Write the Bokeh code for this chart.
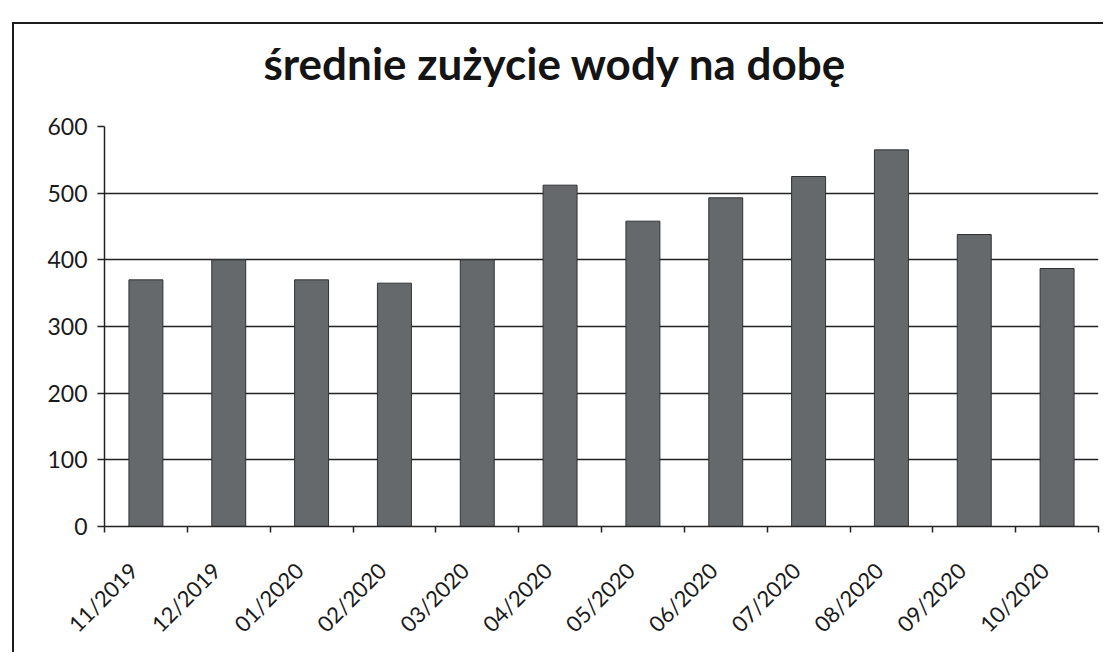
from bokeh.plotting import figure
from bokeh.models import Range1d, FixedTicker, Title
from bokeh.embed import file_html
from bokeh.resources import INLINE

months = ["11/2019", "12/2019", "01/2020", "02/2020", "03/2020", "04/2020",
          "05/2020", "06/2020", "07/2020", "08/2020", "09/2020", "10/2020"]
usage = [370, 400, 370, 365, 400, 512, 458, 493, 525, 565, 438, 387]
y_ticks = [0, 100, 200, 300, 400, 500, 600]
title_text = "średnie zużycie wody na dobę"

n = len(months)
centers = [i + 0.5 for i in range(n)]
bounds = [i for i in range(n + 1)]
# rotated labels end slightly left of each category centre
label_pos = [c - 0.15 for c in centers]

p = figure(width=1091, height=630, output_backend="svg", toolbar_location=None,
           x_range=Range1d(0, n), y_range=Range1d(0, 600),
           min_border_left=90, min_border_right=7, min_border_top=102,
           min_border_bottom=128, title=None)
p.margin = (22, 0, 0, 12)
p.styles = {"border-left": "2px solid #1c1c1c", "border-top": "2px solid #1c1c1c"}

p.vbar(x=centers, top=usage, width=0.41, bottom=0,
       fill_color="#66696c", line_color="#2f3235", line_width=1)

# empty spacer between the frame and the title
spacer = Title(text=" ", text_font_size="10px", standoff=24)
p.add_layout(spacer, "above")
main_title = Title(text=title_text, text_font="Lato", text_font_style="bold",
                   text_font_size="44px", text_color="#141414", align="left",
                   offset=159, standoff=2)
p.add_layout(main_title, "above")

p.outline_line_color = None
p.background_fill_color = "white"
p.border_fill_color = "white"

p.xgrid.grid_line_color = None
p.ygrid.grid_line_color = "#222222"
p.ygrid.grid_line_width = 1.5
p.ygrid.ticker = FixedTicker(ticks=y_ticks)

yax = p.yaxis[0]
yax.ticker = FixedTicker(ticks=y_ticks)
yax.axis_line_color = "#222222"
yax.axis_line_width = 1.5
yax.major_tick_line_color = "#222222"
yax.major_tick_line_width = 1.5
yax.major_tick_out = 7
yax.major_tick_in = 0
yax.minor_tick_line_color = None
yax.major_label_text_font = "Lato"
yax.major_label_text_font_size = "23px"
yax.major_label_text_color = "#1a1a1a"
yax.major_label_standoff = 10

xax = p.xaxis[0]
xax.ticker = FixedTicker(ticks=label_pos, minor_ticks=bounds)
xax.major_label_overrides = {c: m for c, m in zip(label_pos, months)}
xax.axis_line_color = "#222222"
xax.axis_line_width = 1.5
xax.major_tick_line_color = None
xax.major_tick_out = 0
xax.major_tick_in = 0
xax.minor_tick_line_color = "#222222"
xax.minor_tick_line_width = 1.5
xax.minor_tick_out = 6
xax.minor_tick_in = 0
xax.major_label_orientation = 0.7854
xax.major_label_text_font = "Lato"
xax.major_label_text_font_size = "22px"
xax.major_label_text_color = "#1a1a1a"
xax.major_label_standoff = 34

open("out.html", "w").write(file_html(p, INLINE))
